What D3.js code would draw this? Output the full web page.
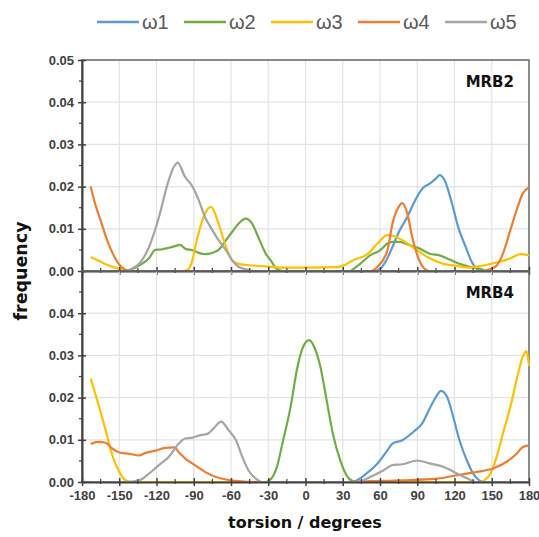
<!DOCTYPE html>
<html>
<head>
<meta charset="utf-8">
<script src="https://cdn.jsdelivr.net/npm/d3@7"></script>
<style>
  body { margin: 0; background: #fff; }
  svg { display: block; }
</style>
</head>
<body>
<div id="chart"></div>
<script>
// series names and colours
var seriesNames = ["ω1", "ω2", "ω3", "ω4", "ω5"];
var seriesColors = ["#5b9bd5", "#70ad47", "#ffc000", "#ed7d31", "#a5a5a5"];
var panelNames = ["MRB2", "MRB4"];
var xTicks = [-180, -150, -120, -90, -60, -30, 0, 30, 60, 90, 120, 150, 180];
var yTicks = [0, 0.01, 0.02, 0.03, 0.04, 0.05];

// MRB2 : [torsion, frequency]
var mrb2_w1 = [[-173,0],[55,0],[60,0.0005],[65,0.0025],[70,0.0057],[76,0.0097],[82,0.0128],[87,0.016],[94,0.0195],[100,0.0207],[105,0.0219],[108,0.0227],[112,0.0215],[118,0.016],[123,0.0104],[129,0.0057],[134,0.0021],[138,0.0005],[142,0],[180,0]];
var mrb2_w2 = [[-173,0],[-145,0],[-140,0.0004],[-134,0.0013],[-126,0.003],[-121,0.005],[-116,0.0051],[-110,0.0055],[-105,0.0059],[-101,0.0062],[-97,0.0053],[-91,0.0049],[-86,0.0043],[-81,0.004],[-75,0.0043],[-70,0.005],[-64,0.0073],[-59,0.0093],[-54,0.0112],[-48,0.0124],[-43,0.0112],[-38,0.008],[-32,0.0041],[-28,0.0025],[-23,0.0005],[-18,0],[36,0],[40,0.0008],[44,0.0017],[52,0.0037],[60,0.0049],[66,0.0065],[70,0.0069],[76,0.0069],[84,0.0061],[92,0.0053],[100,0.0041],[108,0.0037],[116,0.0027],[124,0.0017],[132,0.001],[140,0.0006],[146,0],[180,0]];
var mrb2_w3 = [[-173,0.0033],[-170,0.0029],[-165,0.0022],[-160,0.0015],[-150,0.0005],[-145,0.0002],[-140,0],[-100,0],[-95,0.0003],[-92,0.0017],[-87,0.008],[-81,0.0136],[-76,0.0152],[-70,0.0112],[-64,0.0057],[-59,0.0025],[-54,0.0017],[-43,0.0013],[-32,0.0011],[-20,0.0008],[0,0.0008],[25,0.0009],[32,0.0015],[38,0.0025],[50,0.004],[58,0.0065],[66,0.0085],[71,0.0083],[78,0.0073],[90,0.0049],[100,0.003],[111,0.0017],[122,0.0012],[132,0.0008],[143,0.0013],[154,0.002],[165,0.003],[173,0.004],[180,0.0037]];
var mrb2_w4 = [[-173,0.02],[-170,0.0165],[-165,0.012],[-160,0.0075],[-155,0.004],[-150,0.0015],[-145,0.0003],[-140,0],[52,0],[58,0.001],[66,0.0049],[70,0.0112],[75,0.0152],[78,0.0161],[82,0.0136],[86,0.008],[91,0.003],[96,0.0005],[100,0],[144,0],[148,0.0004],[154,0.0013],[159,0.0041],[165,0.0097],[170,0.0144],[175,0.0184],[180,0.0198]];
var mrb2_w5 = [[-173,0],[-145,0],[-140,0.0005],[-134,0.0017],[-126,0.0057],[-118,0.0128],[-111,0.0207],[-106,0.0247],[-103,0.0257],[-97,0.0223],[-91,0.02],[-86,0.0168],[-81,0.0128],[-75,0.0097],[-70,0.0073],[-64,0.0049],[-59,0.0025],[-54,0.001],[-48,0.0004],[-42,0],[180,0]];

// MRB4 : [torsion, frequency]
var mrb4_w1 = [[-173,0],[38,0],[42,0.0005],[49,0.002],[58,0.0044],[66,0.0075],[70,0.0091],[78,0.0099],[87,0.0119],[94,0.0139],[100,0.0174],[106,0.0206],[109,0.0216],[114,0.0202],[119,0.0154],[124,0.0099],[130,0.0051],[135,0.002],[140,0.0004],[144,0],[180,0]];
var mrb4_w2 = [[-173,0],[-33,0],[-29,0.0004],[-23,0.0036],[-18,0.0099],[-12,0.0178],[-7,0.0265],[-2,0.032],[3,0.0336],[7,0.032],[12,0.0273],[17,0.0194],[22,0.0115],[28,0.0051],[33,0.0016],[38,0.0002],[42,0],[180,0]];
var mrb4_w3 = [[-173,0.0245],[-167,0.0186],[-161,0.0123],[-156,0.0067],[-150,0.0024],[-145,0.0004],[-140,0],[140,0],[144,0.0004],[149,0.002],[154,0.006],[159,0.0115],[165,0.0178],[170,0.0242],[175,0.0297],[178,0.031],[180,0.0275]];
var mrb4_w4 = [[-173,0.009],[-167,0.0095],[-161,0.0093],[-156,0.008],[-150,0.007],[-142,0.0067],[-134,0.0063],[-129,0.0069],[-121,0.0074],[-113,0.0081],[-106,0.0082],[-101,0.0067],[-95,0.0051],[-89,0.004],[-81,0.0024],[-72,0.0012],[-64,0.0006],[-54,0.0002],[-40,0],[30,0],[52,0.0002],[78,0.0004],[106,0.0008],[122,0.0016],[138,0.0024],[151,0.0032],[162,0.0048],[170,0.0067],[175,0.0083],[180,0.0087]];
var mrb4_w5 = [[-173,0],[-145,0],[-134,0.0004],[-126,0.002],[-118,0.004],[-110,0.006],[-102,0.0091],[-97,0.0103],[-91,0.0105],[-86,0.011],[-79,0.0114],[-74,0.0127],[-68,0.0143],[-62,0.0123],[-56,0.0099],[-51,0.006],[-46,0.0028],[-40,0.0008],[-35,0],[41,0],[52,0.0012],[63,0.0028],[70,0.004],[78,0.0042],[90,0.0051],[100,0.0044],[111,0.0036],[122,0.002],[132,0.0006],[137,0],[180,0]];

var panelData = [
  [mrb2_w1, mrb2_w2, mrb2_w3, mrb2_w4, mrb2_w5],
  [mrb4_w1, mrb4_w2, mrb4_w3, mrb4_w4, mrb4_w5]
];

var width = 539, height = 537;
var plotLeft = 82, plotRight = 529, plotTop = 60, panelH = 211;

var svg = d3.select("#chart").append("svg").attr("width", width).attr("height", height);

var x = d3.scaleLinear().domain([-180, 180]).range([plotLeft, plotRight]);

// legend
var legend = svg.append("g");
var legendX = [97, 184, 271, 358, 445];
seriesNames.forEach(function(name, i) {
    var g = legend.append("g").attr("transform", "translate(" + legendX[i] + ",22)");
    g.append("line").attr("x1", 0).attr("x2", 42).attr("y1", 0).attr("y2", 0)
        .attr("stroke", seriesColors[i]).attr("stroke-width", 2.5);
    g.append("text").attr("x", 45).attr("y", 7).text(name)
        .attr("font-family", "Liberation Sans, Arial, sans-serif")
        .attr("font-size", 20).attr("fill", "#595959");
});

var line = d3.line().curve(d3.curveMonotoneX);

panelData.forEach(function(series, p) {
    var y0 = plotTop + p * panelH;
    var y = d3.scaleLinear().domain([0, 0.05]).range([y0 + panelH, y0]);
    var g = svg.append("g");

    // grid
    g.selectAll(".vgrid").data(xTicks.slice(1, -1)).enter().append("line")
        .attr("x1", function(d) { return x(d); }).attr("x2", function(d) { return x(d); })
        .attr("y1", y0).attr("y2", y0 + panelH)
        .attr("stroke", "#e3e3e3").attr("stroke-width", 1.2);
    g.selectAll(".hgrid").data(yTicks.slice(1, -1)).enter().append("line")
        .attr("x1", plotLeft).attr("x2", plotRight)
        .attr("y1", function(d) { return y(d); }).attr("y2", function(d) { return y(d); })
        .attr("stroke", "#e3e3e3").attr("stroke-width", 1.2);

    // frame
    g.append("rect").attr("x", plotLeft).attr("y", y0).attr("width", plotRight - plotLeft).attr("height", panelH)
        .attr("fill", "none").attr("stroke", "#666").attr("stroke-width", 1.5);

    // series
    series.forEach(function(d, i) {
        line.x(function(v) { return x(v[0]); }).y(function(v) { return y(v[1]); });
        g.append("path").attr("d", line(d)).attr("fill", "none")
            .attr("stroke", seriesColors[i]).attr("stroke-width", 2.2)
            .attr("stroke-linejoin", "round");
    });

    // axes
    var yAxis = d3.axisLeft(y).tickValues(p == 0 ? yTicks : yTicks.slice(0, -1))
        .tickFormat(d3.format(".2f")).tickSizeInner(4).tickSizeOuter(0);
    var ya = g.append("g").attr("transform", "translate(" + plotLeft + ",0)").call(yAxis);
    ya.select(".domain").attr("stroke", "#404040").attr("stroke-width", 2);
    ya.selectAll(".tick line").attr("x1", -4).attr("x2", 4).attr("stroke", "#404040").attr("stroke-width", 1.5);
    ya.selectAll(".tick text").attr("x", -8)
        .attr("font-family", "Liberation Sans, Arial, sans-serif").attr("font-size", 13)
        .attr("fill", "#404040").attr("font-weight", "bold");

    // y minor ticks
    g.selectAll(".ym").data(d3.range(0.005, 0.05, 0.01)).enter().append("line")
        .attr("x1", plotLeft - 3).attr("x2", plotLeft)
        .attr("y1", function(d) { return y(d); }).attr("y2", function(d) { return y(d); })
        .attr("stroke", "#404040").attr("stroke-width", 1.2);

    var xAxis = d3.axisBottom(x).tickValues(xTicks).tickSizeInner(4).tickSizeOuter(0)
        .tickFormat(p == 0 ? "" : function(d) { return d; });
    var xa = g.append("g").attr("transform", "translate(0," + (y0 + panelH) + ")").call(xAxis);
    xa.select(".domain").attr("stroke", "#404040").attr("stroke-width", 2);
    xa.selectAll(".tick line").attr("y1", -4).attr("y2", 4).attr("stroke", "#404040").attr("stroke-width", 1.5);
    xa.selectAll(".tick text").attr("y", 9)
        .attr("font-family", "Liberation Sans, Arial, sans-serif").attr("font-size", 13)
        .attr("fill", "#404040").attr("font-weight", "bold");

    // x minor ticks
    g.selectAll(".xm").data(d3.range(-165, 180, 30)).enter().append("line")
        .attr("x1", function(d) { return x(d); }).attr("x2", function(d) { return x(d); })
        .attr("y1", y0 + panelH - 3).attr("y2", y0 + panelH + 2)
        .attr("stroke", "#404040").attr("stroke-width", 1.2);

    g.append("text").attr("x", 514).attr("y", y0 + 27).attr("text-anchor", "end")
        .attr("font-family", "DejaVu Sans, Verdana, sans-serif").attr("font-weight", "bold")
        .attr("font-size", 15).attr("fill", "#111").text(panelNames[p]);
});

svg.append("text").attr("transform", "translate(27,271) rotate(-90)").attr("text-anchor", "middle")
    .attr("font-family", "DejaVu Sans, Verdana, sans-serif").attr("font-weight", "bold")
    .attr("font-size", 17.5).attr("fill", "#111").text("frequency");

svg.append("text").attr("x", 305).attr("y", 528).attr("text-anchor", "middle")
    .attr("font-family", "DejaVu Sans, Verdana, sans-serif").attr("font-weight", "bold")
    .attr("font-size", 16).attr("fill", "#111").text("torsion / degrees");
</script>
</body>
</html>
